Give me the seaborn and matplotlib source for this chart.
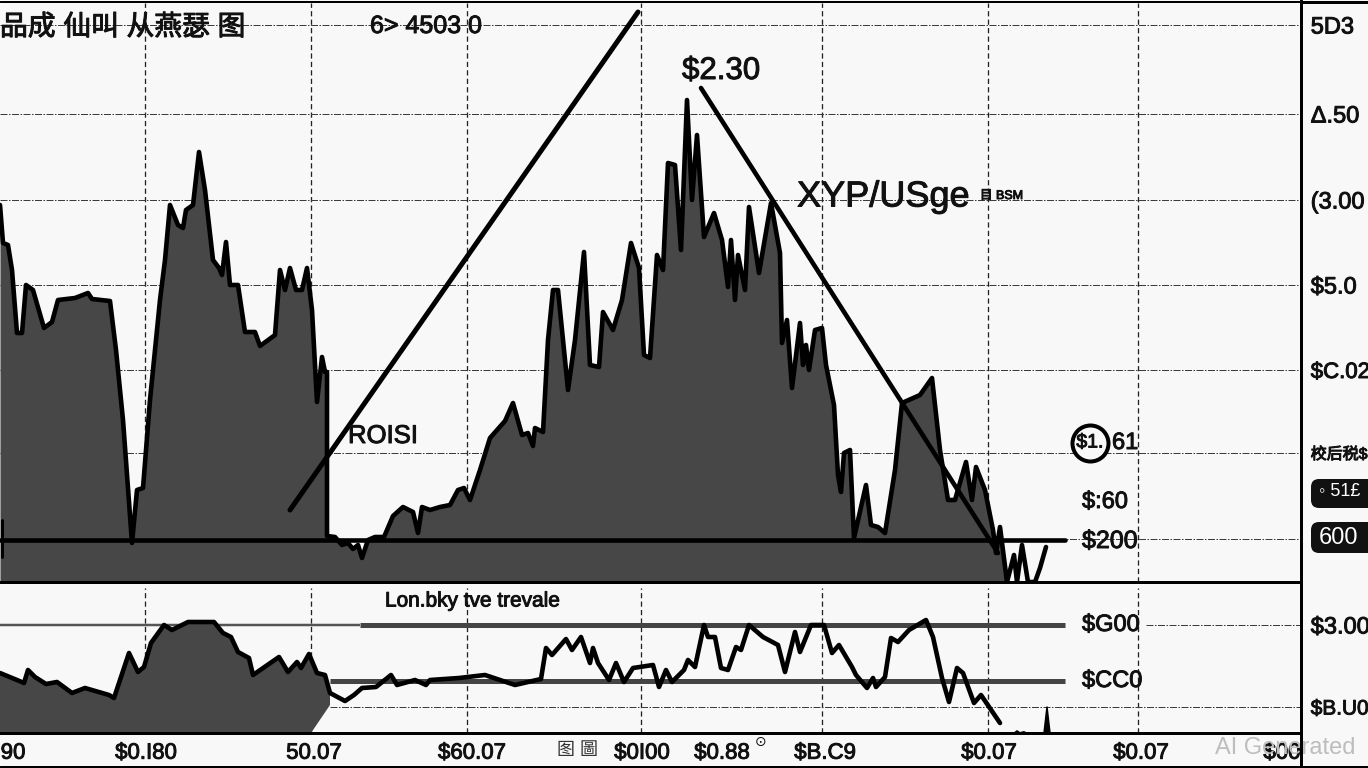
import numpy as np
import pandas as pd
import matplotlib
matplotlib.use("Agg")
import matplotlib.pyplot as plt
import matplotlib.patheffects as pe
from matplotlib.lines import Line2D
from matplotlib.patches import FancyBboxPatch
import seaborn as sns

# ---------- data ----------
price_x = [0,3,8,12,17,22,26,33,44,52,58,75,88,92,110,116,123,132,137,143,150,160,165,170,178,183,186,193,199,205,213,219,222,226,230,238,245,255,260,275,280,285,290,296,302,307,312,317,322,325,327,327,327,335,342,348,353,358,362,368,375,384,393,403,413,418,422,430,440,450,458,464,470,480,490,505,513,522,528,533,535,543,548,553,558,568,575,584,590,599,603,613,622,631,639,644,650,657,663,668,675,681,687,692,697,704,714,722,728,731,735,738,745,749,759,771,780,782,787,792,800,803,806,809,815,822,826,834,838,841,844,850,854,866,871,878,885,895,902,920,932,940,948,955,966,972,976,985,993,996,1000,1007,1014,1017,1022,1028,1035,1040,1046]
price_y = [377,339,337,312,249,249,297,292,254,260,282,284,289,283,281,232,162,39,92,94,182,282,322,377,357,354,372,377,430,392,322,314,307,340,297,297,250,250,236,247,312,292,314,292,292,314,272,180,225,210,210,52,46,45,37,39,33,37,24,42,45,45,66,75,70,49,75,72,75,77,92,94,82,112,144,161,179,147,149,136,154,150,242,292,292,192,242,330,217,215,270,252,282,339,314,227,224,327,312,419,417,332,482,382,447,345,369,342,295,342,282,327,292,375,309,379,329,239,262,194,259,217,237,212,252,254,217,177,107,90,129,132,44,97,57,55,49,112,179,187,204,132,82,82,120,82,115,92,52,29,55,0,27,0,37,0,0,14,35]
rsi_x = [0,17,24,28,35,46,57,72,85,109,114,129,138,144,151,164,172,188,214,223,231,238,249,253,279,288,297,301,309,317,325,330,345,354,362,376,391,397,415,426,430,459,485,515,541,546,552,566,572,581,590,593,598,609,616,624,633,653,659,666,672,684,688,695,704,708,715,721,728,736,741,749,763,778,785,795,800,811,824,832,839,852,856,867,873,876,885,891,898,909,926,933,942,949,957,963,974,981,1000]
rsi_y = [60,53,50,63,56,49,51,40,45,38,35,80,61,66,90,108,103,111,111,100,96,81,75,58,76,61,71,65,79,60,58,40,32,38,45,46,58,48,53,48,53,55,58,48,54,85,78,94,83,96,70,85,70,53,70,51,65,68,46,63,51,63,73,66,108,96,96,65,63,86,83,108,96,88,61,101,81,108,108,80,88,66,58,45,55,46,56,95,91,103,113,96,55,31,65,60,30,38,10]
rsi_fill_end = 32          # points of the RSI series under the shaded area
fill_edge_x = [330, 311, 0]
fill_edge_y = [28, 0, 0]
spike_x = [1044, 1047, 1050]
spike_y = [0, 26, 0]
bump_x = [1013, 1017, 1020, 1024, 1028]
bump_y = [0, 3, 1, 2, 0]

trend_up_x, trend_up_y = [290, 638], [72, 570]
trend_down_x, trend_down_y = [701, 998], [494, 29]
support_x, support_y = [0, 1065], [42, 42]
support_tick_x, support_tick_y = [2, 2], [25, 62]

grid_x = [145, 311, 467, 641, 822, 988, 1138]
grid_y = [557, 468, 382, 297, 212, 129, 43]
right_labels = ["5D3", "Δ.50", "(3.00", "$5.0", "$C.02", "校后税$", ""]
level_hi, level_lo, level_dash = 108, 52, 26
low_right_y = [108, 26]
low_right_labels = ["$3.00", "$B.U0"]

xtick_pos = [13, 146, 314, 472, 642, 722, 825, 989, 1141, 1282]
xtick_labels = ["90", "$0.I80", "50.07", "$60.07", "$0I00", "$0.88", "$B.C9", "$0.07", "$0.07", "$00"]

# ---------- style ----------
W, H = 1368, 768
BG = "#f8f8f8"
DARK = "#474747"
INK = "#111111"
sns.set_theme(style="white")
plt.rcParams["font.family"] = ["Liberation Sans", "Noto Sans CJK SC", "DejaVu Sans"]
px = 72 / 100  # one pixel in points
HEAVY = [pe.withStroke(linewidth=0.7, foreground=INK)]

fig = plt.figure(figsize=(W / 100, H / 100), dpi=100, facecolor=BG)
ax = fig.add_axes([0, 1 - 582 / H, 1301 / W, 579 / H], facecolor=BG)
low = fig.add_axes([0, 1 - 733 / H, 1301 / W, 151 / H], facecolor=BG)
ax.set_zorder(2)
low.set_zorder(1)

GRID_H = dict(color="#3c3c3c", lw=1.0 * px, ls=(0, (7, 1.5, 1.5, 1.5)), zorder=1)
GRID_V = dict(color="#222222", lw=1.3 * px, ls=(0, (4, 2.5)), zorder=1)
LINE = dict(sort=False, estimator=None, color="black", solid_joinstyle="round",
            solid_capstyle="round")

# ---------- main panel ----------
ax.set_xlim(0, 1301)
ax.set_ylim(0, 579)
ax.vlines(grid_x, 0, 579, **GRID_V)
ax.hlines(grid_y, 0, 1301, **GRID_H)

px_arr, py_arr = np.array(price_x), np.array(price_y)
ax.fill_between(px_arr, py_arr, 0, where=px_arr <= 1007, color=DARK, lw=0, zorder=2)
df_price = pd.DataFrame({"x": price_x, "y": price_y})
sns.lineplot(data=df_price, x="x", y="y", ax=ax, lw=4.6 * px, zorder=3, **LINE)
for xs, ys, w in [(trend_up_x, trend_up_y, 5), (trend_down_x, trend_down_y, 4.6),
                  (support_x, support_y, 4.6), (support_tick_x, support_tick_y, 3)]:
    sns.lineplot(x=xs, y=ys, ax=ax, lw=w * px, zorder=4, **LINE)
ax.scatter([1090], [139], s=(36 * px) ** 2, facecolor=BG, edgecolor="black",
           lw=4 * px, zorder=4)

ax.set_xlabel("")
ax.set_ylabel("")
ax.set_xticks([])
ax.yaxis.tick_right()
ax.set_yticks(grid_y)
ax.set_yticklabels(right_labels, fontsize=17)
ax.tick_params(axis="y", length=0, pad=7)
for label in ax.get_yticklabels():
    label.set_color(INK)
    label.set_path_effects(HEAVY)
ax.get_yticklabels()[4].set_fontsize(16)
ax.get_yticklabels()[5].set_fontsize(11.5)

T = dict(color=INK, zorder=6, path_effects=HEAVY)
ax.text(682, 511, "$2.30", fontsize=22.5, va="center", ha="left", **T)
ax.text(797, 385, "XYP/USge", fontsize=26, va="center", ha="left", **T)
ax.text(980, 386, "目 BSM", fontsize=9, va="center", ha="left", **T)
ax.text(348, 146, "ROISI", fontsize=18.5, va="center", ha="left", **T)
ax.text(1090, 139, "$1.", fontsize=14, va="center", ha="center", **T)
ax.text(1112, 139, "61", fontsize=17, va="center", ha="left", **T)
ax.text(1082, 80, "$:60", fontsize=17, va="center", ha="left", **T)
ax.text(1082, 41, "$200", fontsize=18, va="center", ha="left", **T)
ax.text(0, 554, "品成 仙叫 从燕瑟 图", fontsize=20, va="center", ha="left", **T)
ax.text(370, 556, "6> 4503 0", fontsize=18, va="center", ha="left", **T)

for y0, y1 in [(74, 103), (29, 60)]:
    ax.add_patch(FancyBboxPatch((1317, y0 + 6), 70, y1 - y0 - 12,
                                boxstyle="round,pad=6,rounding_size=8", fc=INK, ec="none",
                                zorder=5, clip_on=False))
ax.text(1319, 90, "◦ 51£", fontsize=13, color="white", va="center", ha="left",
        zorder=6, clip_on=False)
ax.text(1319, 44, "600", fontsize=17, color="white", va="center", ha="left",
        zorder=6, clip_on=False)

# ---------- lower panel ----------
low.set_xlim(0, 1301)
low.set_ylim(0, 151)
low.vlines(grid_x, 0, 145, **GRID_V)
low.hlines(level_dash, 330, 1301, **GRID_H)
low.hlines(level_hi, 1146, 1301, **GRID_H)
low.hlines(level_lo, 330, 1065, color="#444444", lw=5 * px, zorder=2)
low.hlines(level_hi, 0, 360, color="#555555", lw=2.5 * px, zorder=2)
low.hlines(level_hi, 360, 1065, color="#444444", lw=5 * px, zorder=2)

low.fill(rsi_x[:rsi_fill_end] + fill_edge_x, rsi_y[:rsi_fill_end] + fill_edge_y,
         color=DARK, lw=0, zorder=3)
df_rsi = pd.DataFrame({"x": rsi_x, "y": rsi_y})
sns.lineplot(data=df_rsi, x="x", y="y", ax=low, lw=4.6 * px, zorder=4, **LINE)
sns.lineplot(x=spike_x, y=spike_y, ax=low, lw=1.5 * px, zorder=4, **LINE)
low.fill(spike_x, spike_y, color="black", lw=0, zorder=4)
low.fill(bump_x, bump_y, color="black", lw=0, zorder=4)

low.set_xlabel("")
low.set_ylabel("")
low.set_xticks(xtick_pos)
low.set_xticklabels(xtick_labels, fontsize=16, color=INK, path_effects=HEAVY)
low.tick_params(axis="x", length=0, pad=7)
low.yaxis.tick_right()
low.set_yticks(low_right_y)
low.set_yticklabels(low_right_labels, fontsize=17, color=INK, path_effects=HEAVY)
low.get_yticklabels()[1].set_fontsize(15)
low.tick_params(axis="y", length=0, pad=7)

low.text(385, 132, "Lon.bky tve trevale", fontsize=15, va="center", ha="left", **T)
low.text(1082, 108, "$G00", fontsize=17, va="center", ha="left", **T)
low.text(1082, 52, "$CC0", fontsize=17, va="center", ha="left", **T)
low.text(557, -17, "图 圖", fontsize=13, color="#333333", va="center", ha="left", clip_on=False)
low.text(761, -9, "⊙", fontsize=10, color=INK, va="center", ha="center",
         family=["DejaVu Sans"], clip_on=False)
low.text(1215, -15, "AI Generated", fontsize=17, color="#bdbdbd", va="center", ha="left",
         clip_on=False, zorder=1)

for a in (ax, low):
    for side in ("top", "left"):
        a.spines[side].set_visible(False)
    for side in ("bottom", "right"):
        a.spines[side].set_visible(True)
        a.spines[side].set_color("black")
        a.spines[side].set_linewidth(3 * px)
        a.spines[side].set_zorder(5)

# frame strips
fig.add_artist(Line2D([0, 1], [1 - 1.5 / H] * 2, color="black", lw=3 * px))
fig.add_artist(Line2D([0, 1], [1.5 / H] * 2, color="black", lw=3 * px))
fig.add_artist(Line2D([1301 / W] * 2, [0, 1], color="black", lw=3 * px))

fig.savefig("out.png", dpi=100, facecolor=BG)
